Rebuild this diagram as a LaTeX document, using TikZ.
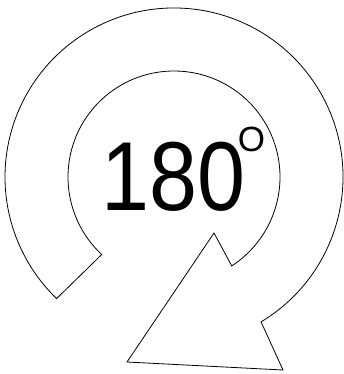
\documentclass[tikz,border=0pt]{standalone}
\usepackage{fontspec}
\setmainfont{Liberation Sans}
\usetikzlibrary{calc}
\begin{document}
\begin{tikzpicture}[x=1pt,y=1pt,
  shapeline/.style={draw=black,line width=0.8pt,line join=miter},
  numtext/.style={inner ysep=0pt,inner xsep=-3pt,anchor=base,font=\fontsize{98}{98}\selectfont,xscale=0.88},
  degtext/.style={inner ysep=0pt,inner xsep=-2pt,anchor=base,font=\fontsize{35}{35}\selectfont}]
\useasboundingbox (0,0) rectangle (344,-374);
\coordinate (c) at (174,-177);
\coordinate (oe) at ($(c)+(-59:169)$);
\coordinate (ie) at ($(c)+(227:106)$);
\coordinate (tip) at (214,-233);
\coordinate (bl) at (127,-362);
\coordinate (br) at (283,-370);
\draw[shapeline] (oe) arc[start angle=-59, end angle=226, radius=169]
  -- (ie) arc[start angle=227, end angle=-57, radius=106]
  -- (tip) -- (bl) -- (br) -- cycle;
\node[numtext] (num) at (173.5,-210) {180};
\node[degtext] (deg) at (251.5,-151.5) {O};
\end{tikzpicture}
\end{document}
